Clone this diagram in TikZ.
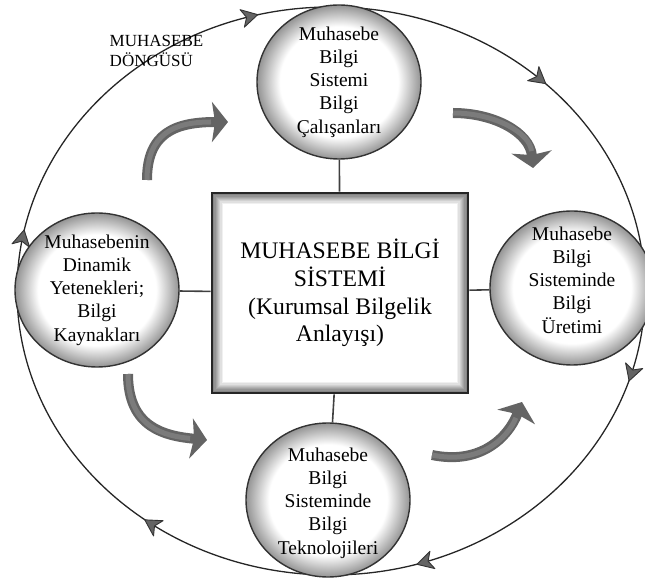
\documentclass[tikz,border=0pt]{standalone}
\usepackage{fontspec}
\setmainfont{Liberation Serif}
\usetikzlibrary{arrows.meta,shapes.geometric,decorations.markings}

\definecolor{okgri}{RGB}{100,100,100}
\pgfdeclareradialshading{kenar}{\pgfpoint{0bp}{0bp}}{color(0bp)=(white); color(18bp)=(white); color(25bp)=(black!42); color(50bp)=(black!42)}
% ters yonlu ok ucu (saat yonu)
\newcommand{\donguucu}{\filldraw[fill=okgri, draw=black!80, line width=0.9pt, line join=round]
   (-9pt,0pt) -- (7pt,9pt) -- (2.5pt,0pt) -- (7pt,-9pt) -- cycle;}

\begin{document}
\begin{tikzpicture}[x=1pt, y=1pt, thick,
   main node/.style={ellipse, draw=black!80, line width=1.4pt, shade, shading=kenar,
                     minimum width=164pt, minimum height=154pt, inner sep=0pt},
   yazi/.style={align=center, inner sep=0pt, font=\fontsize{19.5}{23.3}\selectfont},
   kutu/.style={rectangle, draw=black!85, line width=2.6pt, minimum width=256pt, minimum height=200pt,
                align=center, font=\fontsize{23.7}{27.7}\selectfont,
                path picture={\foreach \i in {0,...,9}{
                   \pgfmathtruncatemacro\ton{54-\i*6}
                   \fill[black!\ton] ([shift={(\i*1.2pt,\i*1.2pt)}]path picture bounding box.south west)
                      rectangle ([shift={(-\i*1.2pt,-\i*1.2pt)}]path picture bounding box.north east);}}},
   baglanti/.style={draw=black!75, line width=1.6pt},
   kalin ok/.style={draw=okgri, line width=10pt, -{Stealth[length=16pt,width=40pt,inset=3pt]},
                    postaction={draw=okgri!85!white, line width=5pt, -, shorten >=17pt}}]

  \useasboundingbox (0,0) rectangle (645,578);

  % muhasebe dongusu
  \draw[black!85, line width=1.3pt, postaction={decorate}, decoration={markings,
      mark=at position 0.131 with {\donguucu},
      mark=at position 0.294 with {\donguucu},
      mark=at position 0.472 with {\donguucu},
      mark=at position 0.650 with {\donguucu},
      mark=at position 0.801 with {\donguucu},
      mark=at position 0.956 with {\donguucu}}]
    (331,287) ellipse [x radius=314pt, y radius=284pt];

  \node[anchor=base west, align=left, font=\fontsize{17}{20}\selectfont] (baslik) at (106,511) {MUHASEBE\\DÖNGÜSÜ};

  \node[kutu] (kutu) at (340,285) {MUHASEBE BİLGİ\\SİSTEMİ\\(Kurumsal Bilgelik\\Anlayışı)};
  \node[main node] (calisan) at (339,496) {};
  \node[main node] (kaynak) at (97,288) {};
  \node[main node] (uretim) at (572,290) {};
  \node[main node] (teknoloji) at (328,78) {};

  \node[yazi] (calisan-y) at (calisan) {Muhasebe\\Bilgi\\Sistemi\\Bilgi\\Çalışanları};
  \node[yazi] (kaynak-y) at (kaynak) {Muhasebenin\\Dinamik\\Yetenekleri;\\Bilgi\\Kaynakları};
  \node[yazi] (uretim-y) at ([yshift=8pt]uretim) {Muhasebe\\Bilgi\\Sisteminde\\Bilgi\\Üretimi};
  \node[yazi] (teknoloji-y) at ([yshift=-3pt]teknoloji) {Muhasebe\\Bilgi\\Sisteminde\\Bilgi\\Teknolojileri};

  \path[baglanti]
    (kutu) edge (calisan)
           edge (uretim)
           edge (teknoloji)
           edge (kaynak);

  % kalin oklar
  \coordinate (ok1a) at (147,398);
  \coordinate (ok1b) at (228,456);
  \coordinate (ok2a) at (453,465);
  \coordinate (ok2b) at (533,410);
  \coordinate (ok3a) at (128,204);
  \coordinate (ok3b) at (207,138);
  \coordinate (ok4a) at (432,123);
  \coordinate (ok4b) at (522,176);

  \draw[kalin ok] (ok1a) .. controls (147,445) and (175,456) .. (ok1b);
  \draw[kalin ok] (ok2a) .. controls (495,465) and (530,445) .. (ok2b);
  \draw[kalin ok] (ok3a) .. controls (128,150) and (165,142) .. (ok3b);
  \draw[kalin ok] (ok4a) .. controls (480,113) and (508,140) .. (ok4b);

\end{tikzpicture}
\end{document}
